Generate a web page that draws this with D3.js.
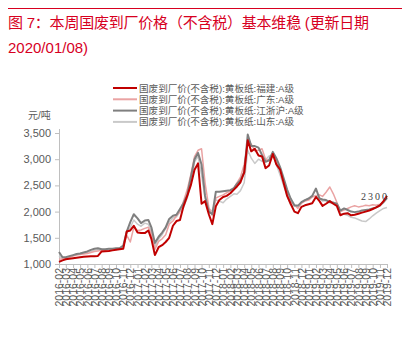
<!DOCTYPE html>
<html>
<head>
<meta charset="utf-8">
<script src="https://cdn.jsdelivr.net/npm/d3@7/dist/d3.min.js"></script>
<style>
  html, body { margin: 0; padding: 0; background: #fff; }
  svg { display: block; font-family: "Liberation Sans", Arial, "Noto Sans CJK SC", sans-serif; }
</style>
</head>
<body>
<svg id="chart" width="407" height="341"></svg>
<script>
// Semi-monthly observations, 2016-02-01 .. 2019-12-01 (1st and 16th of each month)
const startMonth = new Date(2016, 1, 1);
const dates = d3.range(93).map(i => {
  const m = d3.timeMonth.offset(startMonth, Math.floor(i / 2));
  return i % 2 === 0 ? m : new Date(m.getFullYear(), m.getMonth(), 16);
});

const seriesNames = [
  "国废到厂价(不含税):黄板纸:福建:A级",
  "国废到厂价(不含税):黄板纸:广东:A级",
  "国废到厂价(不含税):黄板纸:江浙沪:A级",
  "国废到厂价(不含税):黄板纸:山东:A级"
];

// 元/吨
const fujian = [1040,1070,1090,1100,1110,1120,1130,1140,1145,1150,1150,1155,1240,1245,1250,1260,1270,1280,1290,1620,
  1640,1730,1600,1590,1590,1640,1480,1170,1320,1360,1420,1500,1730,1820,1840,2100,2300,2500,2800,2920,
  2150,2200,1950,1760,2100,2220,2280,2300,2350,2420,2480,2560,2750,3360,3150,3200,3070,3050,2830,2880,
  3100,2900,2800,2550,2300,2150,2000,1970,2090,2120,2140,2160,2280,2200,2110,2150,2200,2150,2110,1930,
  1960,1970,1930,1940,1960,1980,2000,2020,2050,2080,2120,2200,2300];
const guangdong = [1090,1100,1110,1130,1150,1170,1180,1190,1200,1220,1240,1250,1260,1255,1260,1270,1275,1290,1330,1550,
  1420,1700,1640,1650,1680,1700,1580,1280,1430,1480,1560,1760,1820,1920,2000,2200,2420,2700,3050,3170,
  3200,2550,2080,1920,2260,2290,2320,2360,2390,2450,2550,2660,2900,3300,3290,3160,3170,3200,3000,2970,
  3120,2990,2800,2600,2380,2180,2130,2060,2160,2200,2220,2280,2300,2320,2290,2370,2470,2340,2180,2000,
  2030,2060,2090,2110,2090,2100,2120,2110,2130,2120,2140,2180,2250];
const jiangzhehu = [1230,1130,1130,1150,1170,1190,1200,1220,1240,1270,1290,1300,1280,1280,1290,1290,1300,1300,1350,1620,
  1800,1950,1870,1780,1830,1840,1700,1400,1520,1600,1700,1860,1920,1940,2050,2160,2320,2650,3000,3120,
  2900,2300,2000,1950,2380,2380,2390,2400,2410,2450,2530,2600,2750,3470,3250,3250,3220,3080,2950,2980,
  3140,3020,2850,2640,2420,2250,2120,2110,2180,2220,2250,2300,2440,2250,2230,2220,2180,2170,2150,2020,
  2060,2030,2000,1990,2000,2020,2030,2040,2060,2080,2120,2180,2260];
const shandong = [1150,1110,1120,1140,1160,1180,1190,1210,1220,1240,1260,1270,1260,1260,1270,1280,1290,1300,1340,1600,
  1700,1840,1760,1720,1780,1760,1620,1330,1480,1560,1680,1800,1880,1900,2000,2080,2260,2550,2950,3060,
  2700,2250,2050,2010,2220,2200,2170,2240,2290,2340,2330,2400,2550,3170,3020,2920,3000,2960,2990,3060,
  3080,2900,2700,2500,2300,2130,2100,2120,2160,2220,2250,2290,2310,2260,2200,2210,2200,2180,2150,1960,
  1950,1930,1890,1880,1850,1820,1810,1860,1920,1970,2020,2060,2080];

const yTicks = [1000, 1500, 2000, 2500, 3000, 3500];
const monthTicks = d3.timeMonth.range(new Date(2016, 1, 1), new Date(2019, 11, 2));

const colors = ["#c00000", "#eaa3a3", "#7f7f7f", "#c9c9c9"];
const widths = [2, 1.5, 2, 1.5];
const seriesData = [fujian, guangdong, jiangzhehu, shandong];

const svg = d3.select("#chart");

// Header rule and title
svg.append("line").attr("x1", 8).attr("x2", 402).attr("y1", 8.5).attr("y2", 8.5)
  .attr("stroke", "#d7001f").attr("stroke-width", 1);
svg.append("text").attr("x", 8).attr("y", 28)
  .attr("fill", "#d7001f").attr("font-size", 15)
  .attr("textLength", 361).attr("lengthAdjust", "spacing")
  .text("图 7：本周国废到厂价格（不含税）基本维稳 (更新日期");
svg.append("text").attr("x", 8).attr("y", 53)
  .attr("fill", "#d7001f").attr("font-size", 15)
  .text("2020/01/08)");

const x = d3.scaleTime().domain([monthTicks[0], monthTicks[monthTicks.length - 1]]).range([59, 387]);
const y = d3.scaleLinear().domain([1000, 3500]).range([264, 133]);

// Axes
const yAxis = svg.append("g").attr("transform", "translate(59,0)")
  .call(d3.axisLeft(y).tickValues(yTicks).tickFormat(d3.format(",")).tickSize(4).tickSizeOuter(0));
yAxis.selectAll("path, line").attr("stroke", "#bfbfbf");
yAxis.selectAll("text").attr("fill", "#595959").attr("font-size", 11).attr("x", -8);
yAxis.select(".domain").attr("d", `M0.5,${y(3500) - 4}V${y(1000)}`);

const xAxis = svg.append("g").attr("transform", "translate(0,264)")
  .call(d3.axisBottom(x).tickValues(monthTicks).tickFormat(d3.timeFormat("%Y-%m")).tickSize(4).tickSizeOuter(0));
xAxis.selectAll("path, line").attr("stroke", "#bfbfbf");
xAxis.selectAll("text")
  .attr("fill", "#595959").attr("font-size", 10.5)
  .attr("text-anchor", "end")
  .attr("transform", "rotate(-90)")
  .attr("x", -4).attr("y", 0).attr("dy", "0.35em");

// Unit label
svg.append("text").attr("x", 28).attr("y", 119)
  .attr("fill", "#595959").attr("font-size", 10).text("元/吨");

// Series lines
const line = d3.line().x((d, i) => x(dates[i])).y(d => y(d));
[3, 1, 2, 0].forEach(k => {
  svg.append("path").datum(seriesData[k])
    .attr("fill", "none").attr("stroke", colors[k]).attr("stroke-width", widths[k])
    .attr("stroke-linejoin", "round").attr("d", line);
});

// Latest Fujian value
const lastIdx = fujian.length - 1;
svg.append("text")
  .attr("x", x(dates[lastIdx]) + 2).attr("y", y(fujian[lastIdx]) + 4)
  .attr("text-anchor", "end").attr("fill", "#404040")
  .attr("font-size", 10).attr("letter-spacing", 2)
  .attr("font-family", "Liberation Serif, DejaVu Serif, serif")
  .text(fujian[lastIdx]);

// Legend
const legend = svg.append("g");
seriesNames.forEach((name, k) => {
  const ly = 88 + k * 11.3;
  legend.append("line").attr("x1", 113).attr("x2", 137).attr("y1", ly).attr("y2", ly)
    .attr("stroke", colors[k]).attr("stroke-width", 2);
  legend.append("text").attr("x", 139).attr("y", ly + 3.5)
    .attr("fill", "#595959").attr("font-size", 9.6).text(name);
});
</script>
</body>
</html>
